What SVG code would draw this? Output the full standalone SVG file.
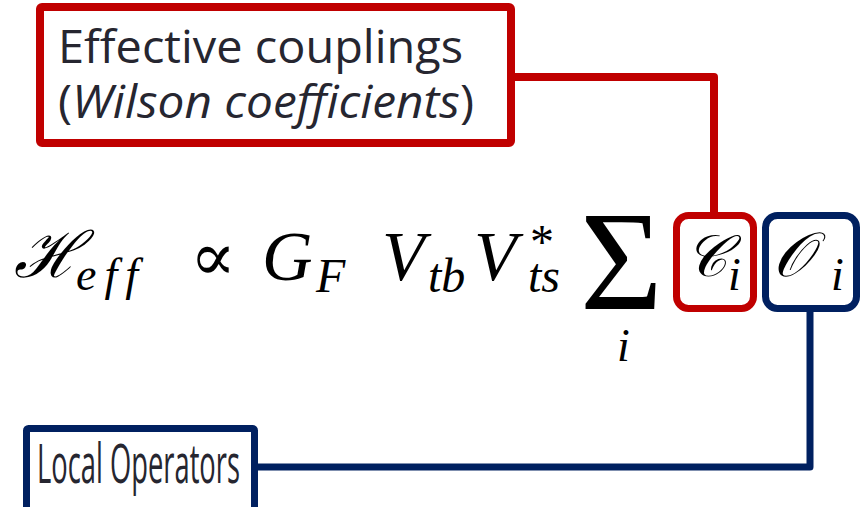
<svg xmlns="http://www.w3.org/2000/svg" width="861" height="507" viewBox="0 0 861 507">
<style>
.lbl{font-family:"Open Sans","Noto Sans","DejaVu Sans",sans-serif;fill:#262630}
.m{font-family:"Liberation Serif","DejaVu Serif",serif;font-style:italic;fill:#000}
.up{font-family:"Liberation Serif","DejaVu Serif",serif;fill:#000}
.red{fill:none;stroke:#C00000}
.blue{fill:none;stroke:#002060}
</style>
<rect width="861" height="507" fill="#fff"/>
<g id="connectors">
<polyline class="red" stroke-width="8" stroke-linejoin="round" points="515,77 714,77 714,212"/>
<polyline class="blue" stroke-width="7" stroke-linejoin="round" points="810,311 810,467 258,467"/>
</g>
<g id="wilson">
<rect class="red" x="40" y="7" width="471" height="136" rx="2" stroke-width="8" fill="#fff"/>
<text class="lbl" x="58" y="63" font-size="46" textLength="405" lengthAdjust="spacingAndGlyphs">Effective couplings</text>
<text class="lbl" x="58" y="118" font-size="46" textLength="416" lengthAdjust="spacingAndGlyphs">(<tspan font-style="italic">Wilson coefficients</tspan>)</text>
</g>
<g id="local">
<rect class="blue" x="26.5" y="428.5" width="228" height="84" rx="2" stroke-width="7" fill="#fff"/>
<text class="lbl" x="37" y="483" font-size="54" textLength="203" lengthAdjust="spacingAndGlyphs">Local Operators</text>
</g>
<g id="equation">
<text class="m" x="14" y="277" font-size="64">ℋ</text>
<text class="m" x="76" y="290" font-size="46" letter-spacing="8">eff</text>
<text class="up" x="190" y="280" font-size="68">∝</text>
<text class="m" x="262" y="280" font-size="70">G</text>
<text class="m" x="316" y="292" font-size="48">F</text>
<text class="m" x="382" y="280" font-size="70">V</text>
<text class="m" x="428" y="292" font-size="48">tb</text>
<text class="m" x="474" y="280" font-size="70">V</text>
<text class="up" x="530" y="258" font-size="48">*</text>
<text class="m" x="528" y="292" font-size="48">ts</text>
<text class="up" x="580" y="309" font-size="142">Σ</text>
<text class="m" x="617" y="361" font-size="46">i</text>
</g>
<g id="ci">
<rect class="red" x="676.5" y="215.5" width="77" height="93" rx="12" stroke-width="7" fill="none"/>
<text class="m" x="685" y="276" font-size="58">𝒞</text>
<text class="m" x="728" y="290" font-size="46">i</text>
</g>
<g id="oi">
<rect class="blue" x="765.5" y="215.5" width="91" height="93" rx="12" stroke-width="7" fill="none"/>
<text class="m" x="773" y="276" font-size="62">𝒪</text>
<text class="m" x="831" y="290" font-size="46">i</text>
</g>
</svg>
